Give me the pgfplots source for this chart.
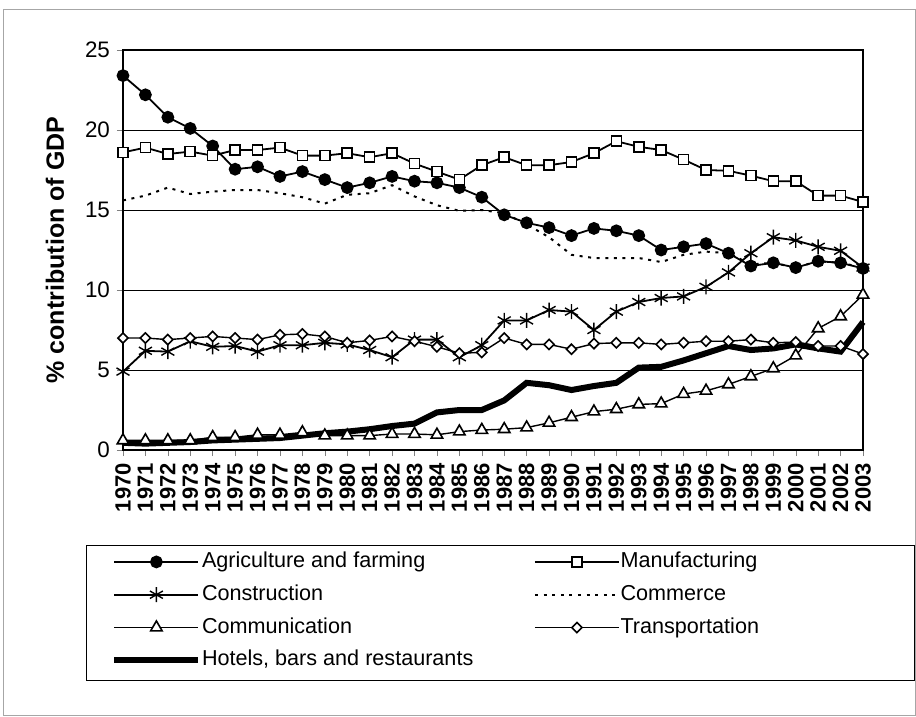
\documentclass[border=0pt]{standalone}
\usepackage{fontspec}
\setmainfont{Liberation Sans}
\usepackage{pgfplots}
\usepackage{pgfplotstable}
\pgfplotsset{compat=1.18}

\pgfplotstableread{
year agr manu cons comm commu trans hot
1970 23.4 18.6 4.9 15.6 0.6 7.0 0.45
1971 22.2 18.9 6.2 15.9 0.6 7.0 0.4
1972 20.8 18.5 6.15 16.4 0.6 6.9 0.45
1973 20.1 18.65 6.8 16.0 0.6 7.0 0.5
1974 19.0 18.4 6.45 16.15 0.8 7.1 0.6
1975 17.55 18.75 6.5 16.25 0.8 7.0 0.65
1976 17.7 18.75 6.15 16.25 0.95 6.9 0.7
1977 17.1 18.9 6.55 16.05 0.95 7.2 0.75
1978 17.4 18.4 6.55 15.8 1.1 7.25 0.9
1979 16.9 18.4 6.7 15.4 0.9 7.1 1.05
1980 16.4 18.55 6.6 15.95 0.9 6.7 1.15
1981 16.7 18.3 6.25 16.05 0.9 6.85 1.3
1982 17.1 18.55 5.8 16.55 1.0 7.1 1.5
1983 16.8 17.9 6.9 15.85 1.0 6.8 1.65
1984 16.7 17.4 6.9 15.3 0.95 6.45 2.35
1985 16.4 16.9 5.8 14.95 1.15 6.05 2.5
1986 15.8 17.8 6.55 15.0 1.25 6.1 2.5
1987 14.7 18.3 8.1 14.8 1.3 7.0 3.1
1988 14.2 17.8 8.1 14.1 1.4 6.6 4.2
1989 13.9 17.8 8.75 13.3 1.7 6.6 4.05
1990 13.4 18.0 8.65 12.2 2.05 6.3 3.75
1991 13.85 18.55 7.5 12.0 2.4 6.65 4.0
1992 13.7 19.3 8.65 12.0 2.55 6.7 4.2
1993 13.4 18.95 9.25 12.0 2.85 6.7 5.15
1994 12.5 18.75 9.5 11.75 2.9 6.6 5.2
1995 12.7 18.15 9.6 12.2 3.5 6.7 5.6
1996 12.9 17.5 10.2 12.4 3.7 6.8 6.05
1997 12.3 17.45 11.1 12.3 4.1 6.8 6.5
1998 11.5 17.15 12.3 11.6 4.6 6.9 6.25
1999 11.7 16.8 13.3 11.7 5.1 6.7 6.35
2000 11.4 16.8 13.1 11.4 5.9 6.75 6.6
2001 11.8 15.9 12.7 11.8 7.6 6.5 6.35
2002 11.7 15.9 12.45 11.7 8.35 6.5 6.15
2003 11.35 15.5 11.4 11.4 9.7 6.0 8.0
}\datatable

\begin{document}
\begin{tikzpicture}
\begin{axis}[
  scale only axis,
  width=370pt, height=200pt,
  xmin=1970, xmax=2003,
  ymin=0, ymax=25,
  xtick=data,
  ytick={0,5,10,15,20,25},
  /pgf/number format/1000 sep={},
  /pgf/number format/assume math mode=true,
  tick pos=left,
  tick align=outside,
  major tick length=3pt,
  ymajorgrids,
  grid style={black, line width=0.5pt},
  axis line style={black, line width=0.6pt},
  xticklabel style={rotate=90, anchor=east, font=\fontsize{11}{12}\selectfont\bfseries},
  yticklabel style={font=\fontsize{11.2}{12}\selectfont},
  ylabel={\% contribution of GDP},
  ylabel style={font=\fontsize{12.5}{14}\selectfont\bfseries, at={(rel axis cs:-0.0919,0.5)}, anchor=center},
  clip=false,
  legend columns=2,
  legend cell align=left,
  legend image code/.code={\draw[mark repeat=2,mark phase=2,#1] plot coordinates {(0pt,0pt) (21pt,0pt) (42pt,0pt)};},
  legend style={draw=none, fill=none, inner sep=0pt, at={(rel axis cs:-0.0162,-0.2475)}, anchor=north west,
    font=\fontsize{10.8}{12}\selectfont, row sep=3.9pt,
    nodes={text height=8pt, text depth=2.5pt, inner ysep=1pt, inner xsep=0.3pt},
    /tikz/every even column/.append style={column sep=30pt}},
]
\addplot[black, line width=3pt, forget plot] table[x=year, y=hot] {\datatable};
\addplot[black, line width=0.9pt, mark=*, mark size=2.75pt] table[x=year, y=agr] {\datatable};
\addlegendentry{Agriculture and farming}
\addplot[black, line width=0.9pt, mark=square*, mark size=2.5pt, mark options={fill=white, line width=0.8pt}] table[x=year, y=manu] {\datatable};
\addlegendentry{Manufacturing}
\addplot[black, line width=0.9pt, mark=asterisk, mark size=3.75pt, mark options={line width=0.7pt}] table[x=year, y=cons] {\datatable};
\addlegendentry{Construction}
\addplot[black, line width=1pt, dash pattern=on 1.5pt off 2.8pt] table[x=year, y=comm] {\datatable};
\addlegendentry{Commerce}
\addplot[black, line width=0.7pt, mark=triangle*, mark size=3.3pt, mark options={fill=white, line width=0.8pt}] table[x=year, y=commu] {\datatable};
\addlegendentry{Communication}
\addplot[black, line width=0.7pt, mark=square*, mark size=1.8pt, mark options={fill=white, rotate=45, line width=0.8pt}] table[x=year, y=trans] {\datatable};
\addlegendentry{Transportation}
\addlegendimage{black, line width=3pt}
\addlegendentry{Hotels, bars and restaurants}
\draw[gray!70, line width=0.4pt] (rel axis cs:-0.162,1.1025) rectangle (rel axis cs:1.0703,-0.6625);
\draw[black, line width=0.5pt] (rel axis cs:-0.04865,-0.2375) rectangle (rel axis cs:1.0690,-0.575);
\path (rel axis cs:-0.1662,1.125) rectangle (rel axis cs:1.0716,-0.665);
\end{axis}
\end{tikzpicture}
\end{document}
